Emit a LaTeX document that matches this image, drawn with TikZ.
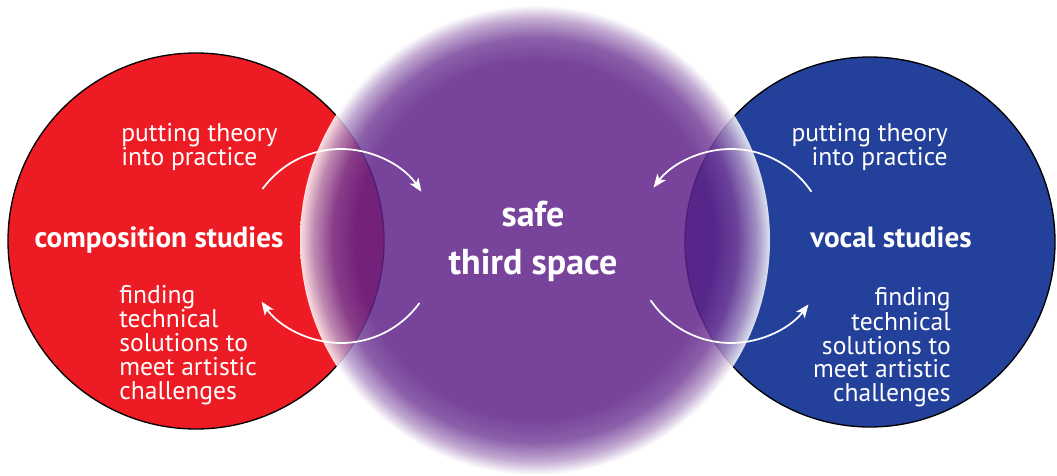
\documentclass[tikz,border=0pt]{standalone}
\usepackage{fontspec}
\setmainfont{PT Sans}
\usetikzlibrary{arrows.meta}
\definecolor{compred}{HTML}{ED1C24}
\definecolor{vocalblue}{HTML}{23409A}
\definecolor{thirdpurple}{RGB}{95,34,137}
\pgfdeclareradialshading{thirdfade}{\pgfpoint{0bp}{0bp}}{color(0bp)=(thirdpurple); color(19bp)=(thirdpurple); color(21.5bp)=(thirdpurple!85!white); color(23.5bp)=(thirdpurple!45!white); color(25bp)=(white); color(50bp)=(white)}
\tikzset{
  notetext/.style={text=white, inner sep=0pt, font=\fontsize{19.2}{18}\selectfont},
  headtext/.style={text=white, inner sep=0pt, font=\bfseries\fontsize{21.9}{18}\selectfont},
  cyclearrow/.style={->, draw=white, line width=1.3pt}
}

\begin{document}
\begin{tikzpicture}[x=0.75pt, y=0.75pt, >={Stealth[length=10pt, width=8pt, inset=2.5pt]}]
    \useasboundingbox (0,0) rectangle (1057,475);

    % the two study circles and the blurred third space
    \filldraw[fill=compred, draw=black, line width=1pt] (196,234) circle (188);
    \filldraw[fill=vocalblue, draw=black, line width=1pt] (870,233) circle (185);
    \shade[shading=thirdfade, opacity=0.85] (535,235) circle (235);

    \node[headtext, anchor=base] (comp) at (159,227) {composition studies};
    \node[headtext, anchor=base] (vocal) at (891,227) {vocal studies};
    \node[headtext, font=\bfseries\fontsize{27}{36}\selectfont, align=center, anchor=base] (third) at (533,200) {safe\\third space};

    % last line of each note sits on the given point
    \node[notetext, align=left, anchor=base west] (comptheory) at (121,309) {putting theory\\into practice};
    \node[notetext, align=left, anchor=base west] (comptech) at (119,75) {finding\\technical\\solutions to\\meet artistic\\challenges};
    \node[notetext, align=right, anchor=base east] (vocaltheory) at (948,309) {putting theory\\into practice};
    \node[notetext, align=right, anchor=base east] (vocaltech) at (951,73) {finding\\technical\\solutions to\\meet artistic\\challenges};

    % exchange loops
    \coordinate (leftloop) at (341,229);
    \coordinate (rightloop) at (731,229);
    \draw[cyclearrow] (leftloop) ++(144:97) arc[start angle=144, end angle=34, radius=97];
    \draw[cyclearrow] (leftloop) ++(-36:97) arc[start angle=-36, end angle=-145, radius=97];
    \draw[cyclearrow] (rightloop) ++(34:97) arc[start angle=34, end angle=143, radius=97];
    \draw[cyclearrow] (rightloop) ++(-146:97) arc[start angle=-146, end angle=-37, radius=97];
\end{tikzpicture}
\end{document}
